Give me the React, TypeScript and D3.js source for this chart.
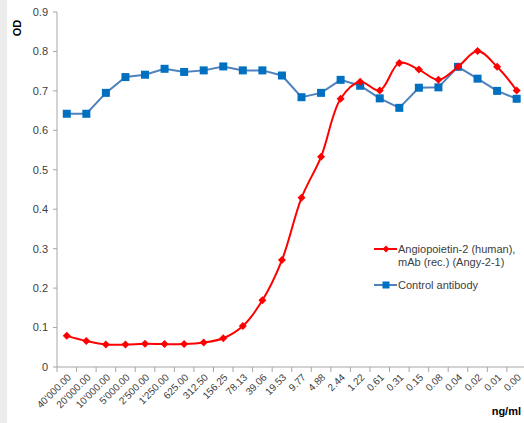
import React from "react";
import * as d3 from "d3";

const categories = ["40'000.00","20'000.00","10'000.00","5'000.00","2'500.00","1'250.00","625.00","312.50","156.25","78.13","39.06","19.53","9.77","4.88","2.44","1.22","0.61","0.31","0.15","0.08","0.04","0.02","0.01","0.00"];
const angySeries = [0.079,0.066,0.057,0.057,0.059,0.058,0.058,0.062,0.073,0.104,0.169,0.271,0.429,0.533,0.680,0.723,0.701,0.771,0.754,0.728,0.761,0.801,0.761,0.701];
const controlSeries = [0.642,0.642,0.695,0.735,0.741,0.756,0.748,0.752,0.762,0.752,0.752,0.739,0.684,0.695,0.728,0.713,0.681,0.657,0.708,0.709,0.761,0.731,0.700,0.680];
const yTicks = [0,0.1,0.2,0.3,0.4,0.5,0.6,0.7,0.8,0.9];
const seriesNames = ["Angiopoietin-2 (human),", "mAb (rec.) (Angy-2-1)", "Control antibody"];

const W = 524, H = 423;
const left = 57, top = 12, bottom = 367;
const band = 19.56;
const right = left + band * categories.length;

export default function App() {
  const x = d3.scaleBand<string>().domain(categories).range([left, right]);
  const y = d3.scaleLinear().domain([0, 0.9]).range([bottom, top]);
  const cx = (i: number) => (x(categories[i]) as number) + x.bandwidth() / 2;
  const redLine = d3.line<number>().x((_, i) => cx(i)).y(d => y(d)).curve(d3.curveCatmullRom.alpha(0.5));
  const blueLine = d3.line<number>().x((_, i) => cx(i)).y(d => y(d));
  const font = "'Liberation Sans', Arial, sans-serif";
  const axisColor = "#a6a6a6";
  const textColor = "#404040";
  const diamond = (px: number, py: number, s: number) => `M${px},${py - s}L${px + s},${py}L${px},${py + s}L${px - s},${py}Z`;
  const xTickPos = d3.range(categories.length + 1).map(i => left + i * band);

  return (
    <svg width={W} height={H} style={{ position: "absolute", left: 0, top: 0, background: "#fff" }} fontFamily={font}>
      <rect x={0} y={0} width={7} height={H} fill="#ececec" />
      {/* y axis */}
      <line x1={left} x2={left} y1={top} y2={bottom} stroke={axisColor} />
      {yTicks.map(t => (
        <g key={t}>
          <line x1={left - 4} x2={left} y1={y(t)} y2={y(t)} stroke={axisColor} />
          <text x={left - 9} y={y(t)} dy="0.35em" textAnchor="end" fontSize={11} fill={textColor}>{t === 0 ? "0" : t.toFixed(1)}</text>
        </g>
      ))}
      <text transform={`translate(21,28) rotate(-90)`} textAnchor="middle" fontSize={11} fontWeight="bold" fill="#000">OD</text>
      {/* x axis */}
      <line x1={left} x2={right} y1={bottom} y2={bottom} stroke={axisColor} />
      {xTickPos.map((p, i) => (
        <line key={i} x1={p} x2={p} y1={bottom} y2={bottom + 5} stroke={axisColor} />
      ))}
      {categories.map((c, i) => (
        <text key={c} transform={`translate(${cx(i) + 5},${bottom + 11}) rotate(-45)`} textAnchor="end" fontSize={10} fill={textColor}>{c}</text>
      ))}
      <text x={521} y={415} textAnchor="end" fontSize={11} fontWeight="bold" fill="#000">ng/ml</text>
      {/* series */}
      <path d={blueLine(controlSeries) as string} fill="none" stroke="#4f81bd" strokeWidth={2} />
      {controlSeries.map((v, i) => (
        <rect key={i} x={cx(i) - 4} y={y(v) - 4} width={8} height={8} fill="#0070c0" />
      ))}
      <path d={redLine(angySeries) as string} fill="none" stroke="#ff0000" strokeWidth={2} />
      {angySeries.map((v, i) => (
        <path key={i} d={diamond(cx(i), y(v), 4)} fill="#ff0000" />
      ))}
      {/* legend */}
      <line x1={374} x2={397} y1={249} y2={249} stroke="#ff0000" strokeWidth={2} />
      <path d={diamond(386, 249, 3.5)} fill="#ff0000" />
      <text x={398} y={253} fontSize={11} fill={textColor}>{seriesNames[0]}</text>
      <text x={398} y={266} fontSize={11} fill={textColor}>{seriesNames[1]}</text>
      <line x1={374} x2={397} y1={285} y2={285} stroke="#4f81bd" strokeWidth={2} />
      <rect x={382.5} y={281.5} width={7} height={7} fill="#0070c0" />
      <text x={398} y={289} fontSize={11} fill={textColor}>{seriesNames[2]}</text>
    </svg>
  );
}
